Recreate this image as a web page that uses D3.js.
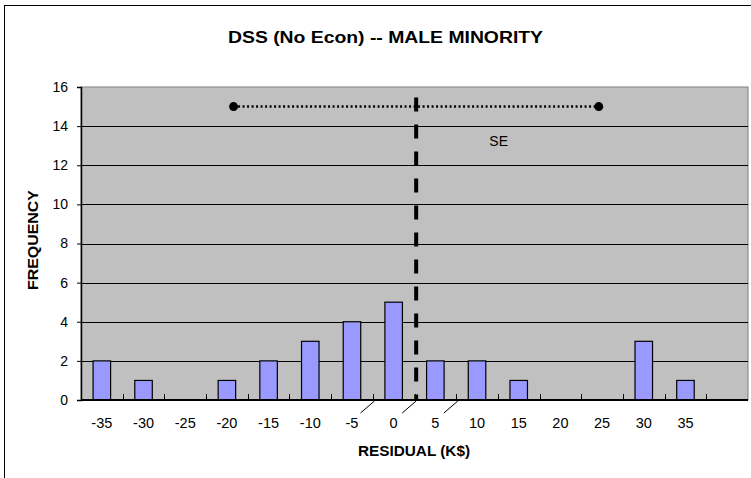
<!DOCTYPE html>
<html>
<head>
<meta charset="utf-8">
<script src="https://cdn.jsdelivr.net/npm/d3@7/dist/d3.min.js"></script>
<style>
  body { margin: 0; background: #fff; }
  svg { display: block; font-family: Arial, "Liberation Sans", sans-serif; }
</style>
</head>
<body>
<div id="chart"></div>
<script>
// residual bins (K$) and frequency counts
const categories = [-35, -30, -25, -20, -15, -10, -5, 0, 5, 10, 15, 20, 25, 30, 35, 40];
const tickLabels = ["-35", "-30", "-25", "-20", "-15", "-10", "-5", "0", "5", "10", "15", "20", "25", "30", "35", ""];
const counts = [2, 1, 0, 1, 2, 3, 4, 5, 2, 2, 1, 0, 0, 3, 1, 0];
const yTicks = [0, 2, 4, 6, 8, 10, 12, 14, 16];

// mean residual, SE interval end points and +/-5 markers below the axis
const meanResidual = 2.7;
const seEnds = [-19.2, 24.6];
const seLevel = 15;
const axisMarks = [-2.3, 2.7, 7.7];
const seLabel = { text: "SE", x: 12.6, y: 13 };

const width = 751, height = 478;
const plot = { left: 81, right: 748, top: 87, bottom: 400 };

const svg = d3.select("#chart").append("svg")
  .attr("width", width)
  .attr("height", height);

// outer chart border (runs past the right / bottom edge)
svg.append("rect")
  .attr("x", 4.5).attr("y", 5.5)
  .attr("width", 800).attr("height", 600)
  .attr("fill", "#fff").attr("stroke", "#000").attr("stroke-width", 1);

const x = d3.scaleBand()
  .domain(categories)
  .range([plot.left, plot.right])
  .padding(0);

// continuous residual scale over the same span as the bins
const xv = d3.scaleLinear()
  .domain([categories[0] - 2.5, categories[categories.length - 1] + 2.5])
  .range([plot.left, plot.right]);

const y = d3.scaleLinear()
  .domain([0, 16])
  .range([plot.bottom, plot.top]);

// plot area
svg.append("rect")
  .attr("x", plot.left).attr("y", plot.top)
  .attr("width", plot.right - plot.left).attr("height", plot.bottom - plot.top)
  .attr("fill", "#C0C0C0").attr("stroke", "#808080").attr("stroke-width", 1);

// gridlines
svg.append("g")
  .selectAll("line")
  .data(yTicks.filter(d => d > 0 && d < 16))
  .join("line")
  .attr("x1", plot.left).attr("x2", plot.right)
  .attr("y1", d => Math.round(y(d)) + 0.5).attr("y2", d => Math.round(y(d)) + 0.5)
  .attr("stroke", "#000").attr("stroke-width", 1);

// bars
const barW = x.bandwidth() * 0.42;
svg.append("g")
  .selectAll("rect")
  .data(categories.map((c, i) => ({ c, v: counts[i] })).filter(d => d.v > 0))
  .join("rect")
  .attr("x", d => x(d.c) + (x.bandwidth() - barW) / 2)
  .attr("y", d => y(d.v))
  .attr("width", barW)
  .attr("height", d => y(0) - y(d.v))
  .attr("fill", "#9999FF")
  .attr("stroke", "#000")
  .attr("stroke-width", 1.2);

// y axis
const yAxis = svg.append("g")
  .attr("transform", `translate(${plot.left},0)`)
  .call(d3.axisLeft(y).tickValues(yTicks).tickSize(4).tickPadding(9));
yAxis.select(".domain").attr("stroke", "#000").attr("stroke-width", 1.5);
yAxis.selectAll("text").attr("font-size", 14).attr("fill", "#000")
  .attr("font-family", "Arial, 'Liberation Sans', sans-serif");

// x axis: tick marks sit on bin boundaries, pointing up into the plot
const xAxis = svg.append("g")
  .attr("transform", `translate(0,${plot.bottom})`);
xAxis.append("line")
  .attr("x1", plot.left).attr("x2", plot.right)
  .attr("stroke", "#000").attr("stroke-width", 1.8);
xAxis.selectAll("line.tick")
  .data(categories.slice(1))
  .join("line")
  .attr("class", "tick")
  .attr("x1", d => Math.round(x(d)) + 0.5).attr("x2", d => Math.round(x(d)) + 0.5)
  .attr("y1", 0).attr("y2", -6)
  .attr("stroke", "#000").attr("stroke-width", 1);
xAxis.selectAll("text")
  .data(categories)
  .join("text")
  .attr("x", d => x(d) + x.bandwidth() / 2)
  .attr("y", 28)
  .attr("text-anchor", "middle")
  .attr("font-size", 14.5)
  .text((d, i) => tickLabels[i]);

// small leader marks under the axis
svg.append("g")
  .selectAll("line")
  .data(axisMarks)
  .join("line")
  .attr("x1", d => xv(d) - 14).attr("y1", plot.bottom + 13)
  .attr("x2", d => xv(d)).attr("y2", plot.bottom + 1)
  .attr("stroke", "#000").attr("stroke-width", 1);

// SE interval (dotted) with end dots
svg.append("line")
  .attr("x1", xv(seEnds[0])).attr("x2", xv(seEnds[1]))
  .attr("y1", y(seLevel)).attr("y2", y(seLevel))
  .attr("stroke", "#000").attr("stroke-width", 2.5)
  .attr("stroke-dasharray", "2,2.5");
svg.append("g")
  .selectAll("circle")
  .data(seEnds)
  .join("circle")
  .attr("cx", d => xv(d)).attr("cy", y(seLevel))
  .attr("r", 4.5).attr("fill", "#000");

// mean residual (dashed vertical)
svg.append("line")
  .attr("x1", xv(meanResidual)).attr("x2", xv(meanResidual))
  .attr("y1", plot.top).attr("y2", plot.bottom)
  .attr("stroke", "#000").attr("stroke-width", 4)
  .attr("stroke-dasharray", "14,13")
  .attr("stroke-dashoffset", 16.5);

svg.append("text")
  .attr("x", xv(seLabel.x)).attr("y", y(seLabel.y))
  .attr("text-anchor", "middle")
  .attr("font-size", 14)
  .text(seLabel.text);

// titles
svg.append("text")
  .attr("x", 385.5).attr("y", 42.5)
  .attr("text-anchor", "middle")
  .attr("font-size", 16).attr("font-weight", "bold")
  .attr("textLength", 315).attr("lengthAdjust", "spacingAndGlyphs")
  .text("DSS (No Econ) -- MALE MINORITY");

svg.append("text")
  .attr("x", 414).attr("y", 456)
  .attr("text-anchor", "middle")
  .attr("font-size", 14).attr("font-weight", "bold")
  .attr("textLength", 112).attr("lengthAdjust", "spacingAndGlyphs")
  .text("RESIDUAL (K$)");

svg.append("text")
  .attr("transform", "translate(38,240) rotate(-90)")
  .attr("text-anchor", "middle")
  .attr("font-size", 14).attr("font-weight", "bold")
  .attr("textLength", 100).attr("lengthAdjust", "spacingAndGlyphs")
  .text("FREQUENCY");
</script>
</body>
</html>
